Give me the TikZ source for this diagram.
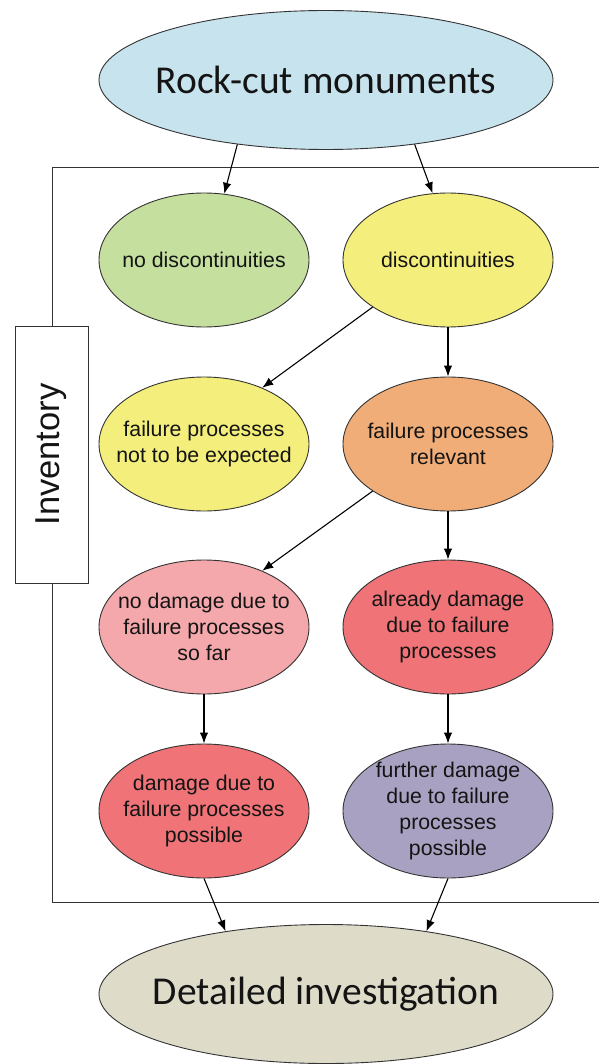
\documentclass[tikz,border=0pt]{standalone}
\usepackage{fontspec}
\setmainfont{Liberation Sans}
\newfontfamily\carl{Carlito}
\usetikzlibrary{shapes.geometric,arrows.meta}
\definecolor{cblue}{HTML}{C7E3EE}
\definecolor{cgreen}{HTML}{C5DF9F}
\definecolor{cyellow}{HTML}{F4EF7C}
\definecolor{corange}{HTML}{F0AD78}
\definecolor{cpink}{HTML}{F5A8AB}
\definecolor{cred}{HTML}{EF7377}
\definecolor{cpurple}{HTML}{A9A1C1}
\definecolor{cbeige}{HTML}{DEDCC9}
\definecolor{cline}{HTML}{333333}
\definecolor{ctext}{HTML}{141414}
\tikzset{
  ell/.style={ellipse, draw=cline, line width=0.9pt, minimum width=210pt, minimum height=134pt, inner sep=0pt},
  bigell/.style={ellipse, draw=cline, line width=0.9pt, minimum width=454pt, minimum height=139pt, inner sep=0pt},
  txt/.style={align=center, text=ctext, font=\fontsize{21.3}{26}\selectfont, inner sep=0pt},
  bigtxt/.style={text=ctext, font=\carl\fontsize{39.5}{46}\selectfont, inner sep=0pt},
  arr/.style={-{Latex[length=11pt,width=8.5pt]}, line width=1.1pt, black},
  frame/.style={line width=1pt, draw=cline}
}
\begin{document}
\begin{tikzpicture}[x=1pt,y=-1pt]
\useasboundingbox (0,0) rectangle (599,1064);
% frame
\draw[frame] (599,168) -- (52,168) -- (52,902) -- (599,902);
\node[draw=cline, line width=1pt, fill=white, minimum width=73pt, minimum height=257pt, inner sep=0pt] (inv) at (51.5,454.5) {};
\node[rotate=90, text=ctext, font=\fontsize{34.5}{40}\selectfont, inner sep=0pt] (invt) at (inv.center) {Inventory};
% top and bottom
\node[bigell, fill=cblue] (top) at (326,80) {};
\node[bigtxt] (topt) at (top.center) {Rock-cut monuments};
\node[bigell, fill=cbeige] (bot) at (326,994) {};
\node[bigtxt] (bott) at (bot.center) {Detailed investigation};
% rows
\node[ell, fill=cgreen] (nodisc) at (204,260) {};
\node[txt] (nodisct) at (nodisc.center) {no discontinuities};
\node[ell, fill=cyellow] (disc) at (448,260) {};
\node[txt] (disct) at (disc.center) {discontinuities};
\node[ell, fill=cyellow] (notexp) at (204,444) {};
\node[txt] (notexpt) at (notexp.center) {failure processes\\not to be expected};
\node[ell, fill=corange] (rel) at (448,444) {};
\node[txt] (relt) at (rel.center) {failure processes\\relevant};
\node[ell, fill=cpink] (nodam) at (204,627) {};
\node[txt] (nodamt) at (nodam.center) {no damage due to\\failure processes\\so far};
\node[ell, fill=cred] (already) at (448,627) {};
\node[txt] (alreadyt) at (already.center) {already damage\\due to failure\\processes};
\node[ell, fill=cred] (dampos) at (204,811) {};
\node[txt] (dampost) at (dampos.center) {damage due to\\failure processes\\possible};
\node[ell, fill=cpurple] (further) at (448,811) {};
\node[txt] (furthert) at (further.center) {further damage\\due to failure\\processes\\possible};
% arrows
\draw[arr] (top.216) -- (nodisc.73);
\draw[arr] (top.324) -- (disc.103);
\draw[arr] (disc.212) -- (notexp.44);
\draw[arr] (disc.south) -- (rel.north);
\draw[arr] (rel.212) -- (nodam.44);
\draw[arr] (rel.south) -- (already.north);
\draw[arr] (nodam.south) -- (dampos.north);
\draw[arr] (already.south) -- (further.north);
\draw[arr] (dampos.south) -- (bot.148);
\draw[arr] (further.south) -- (bot.32);
\end{tikzpicture}
\end{document}
